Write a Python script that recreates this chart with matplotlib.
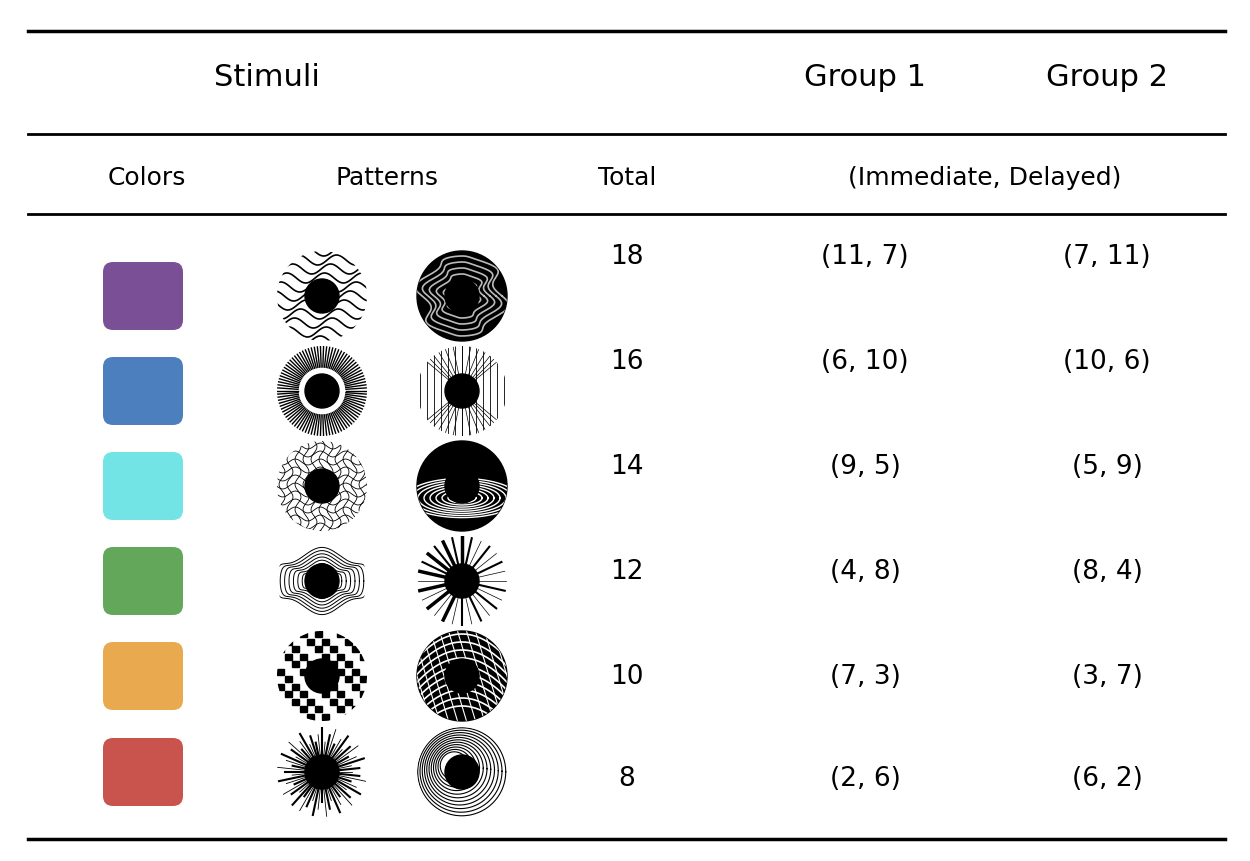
import numpy as np
import matplotlib
matplotlib.use("Agg")
import matplotlib.pyplot as plt
from matplotlib.patches import FancyBboxPatch, Circle

header1 = ["Stimuli", "Group 1", "Group 2"]
header2 = ["Colors", "Patterns", "Total", "(Immediate, Delayed)"]
colors = ["#7B4F96", "#4C7FBE", "#72E4E6", "#63A85A", "#E8A94F", "#C9544E"]
totals = [18, 16, 14, 12, 10, 8]
group1 = ["(11, 7)", "(6, 10)", "(9, 5)", "(4, 8)", "(7, 3)", "(2, 6)"]
group2 = ["(7, 11)", "(10, 6)", "(5, 9)", "(8, 4)", "(3, 7)", "(6, 2)"]

fig = plt.figure(figsize=(12.5, 8.62), dpi=100)
ax = fig.add_axes([0, 0, 1, 1])
ax.set_xlim(0, 1250); ax.set_ylim(862, 0); ax.axis("off")
FONT = "DejaVu Sans"

for y, lw in [(32, 2.5), (135, 2), (215, 2), (840, 2.5)]:
    ax.plot([28, 1225], [y, y], color="black", lw=lw)

ax.text(267, 77, header1[0], ha="center", va="center", fontsize=22, family=FONT)
ax.text(865, 77, header1[1], ha="center", va="center", fontsize=22, family=FONT)
ax.text(1107, 77, header1[2], ha="center", va="center", fontsize=22, family=FONT)
for x, t in zip([147, 387, 627, 985], header2):
    ax.text(x, 178, t, ha="center", va="center", fontsize=18, family=FONT)

row_y = [297, 392, 487, 582, 677, 773]
text_y = [257, 362, 467, 572, 677, 779]

def pattern(cx, cy, kind, r=45):
    clip = Circle((cx, cy), r, transform=ax.transData)
    dark = kind in (6, 8, 10)
    bg = Circle((cx, cy), r, color="black" if dark else "white", zorder=2)
    ax.add_patch(bg)
    arts = []
    t = np.linspace(0, 2*np.pi, 200)
    if kind == 0:
        for k in range(-5, 6):
            xs = np.linspace(cx-r, cx+r, 100)
            arts += ax.plot(xs, cy + k*9 + 5*np.sin((xs-cx)/6 + k), color="k", lw=1.2)
    elif kind == 1:
        for a in np.linspace(0, 2*np.pi, 90, endpoint=False):
            arts += ax.plot([cx + 24*np.cos(a), cx + r*np.cos(a)], [cy + 24*np.sin(a), cy + r*np.sin(a)], color="k", lw=1.0)
    elif kind == 2:
        for k in range(-6, 7):
            xs = np.linspace(cx-r, cx+r, 50)
            arts += ax.plot(xs, cy + k*8 + 3*np.sin(xs/4), color="k", lw=0.6)
            arts += ax.plot(cx + k*8 + 3*np.sin(xs/4), xs - cx + cy, color="k", lw=0.6)
    elif kind == 3:
        for rr in range(18, 46, 4):
            arts += ax.plot(cx + rr*np.cos(t)*1.1, cy + rr*np.sin(t)*0.7 + 0.1*rr*np.sin(5*t), color="k", lw=0.7)
    elif kind == 4:
        for i in range(12):
            for j in range(12):
                if (i*7 + j*3) % 5 < 2:
                    x0 = cx - r + i*7.5; y0 = cy - r + j*7.5
                    arts.append(ax.add_patch(plt.Rectangle((x0, y0), 7, 6, color="k")))
    elif kind == 5:
        for a in np.linspace(0, 2*np.pi, 60, endpoint=False):
            l = 30 + 15*((int(a*10)) % 3)/2
            arts += ax.plot([cx, cx + l*np.cos(a)], [cy, cy + l*np.sin(a)], color="k", lw=1.5 if int(a*10) % 2 else 0.6)
    elif kind == 6:
        for rr in range(10, 46, 6):
            arts += ax.plot(cx + rr*np.cos(t)*(1 + 0.2*np.sin(6*t)), cy + rr*np.sin(t), color="#bbbbbb", lw=1.2)
    elif kind == 7:
        for k in range(-6, 7):
            arts += ax.plot([cx + k*7, cx + k*7], [cy - r, cy + r], color="k", lw=0.6)
            arts += ax.plot([cx, cx + k*9], [cy, cy - r], color="k", lw=0.5)
            arts += ax.plot([cx, cx + k*9], [cy, cy + r], color="k", lw=0.5)
    elif kind == 8:
        for rr in range(8, 60, 6):
            arts += ax.plot(cx + rr*np.cos(t), cy + 12 + rr*0.35*np.sin(t), color="white", lw=1.0)
    elif kind == 9:
        for a in np.linspace(0, 2*np.pi, 28, endpoint=False):
            arts += ax.plot([cx, cx + 44*np.cos(a)], [cy, cy + 44*np.sin(a)], color="k", lw=0.5 + (int(a*7) % 3))
    elif kind == 10:
        for k in range(-5, 6):
            xs = np.linspace(cx-r, cx+r, 50)
            arts += ax.plot(xs, cy + k*8 + 0.012*(xs-cx)**2 - 10, color="white", lw=1.2)
            arts += ax.plot(cx + k*9 + 0.3*(xs-cx), xs - cx + cy, color="white", lw=0.8)
    elif kind == 11:
        for rr in range(14, 46, 3):
            arts += ax.plot(cx + rr*np.cos(t) - (45-rr)*0.25, cy + rr*np.sin(t) - (45-rr)*0.2, color="k", lw=0.8)
    for a in arts:
        a.set_clip_path(clip); a.set_zorder(3)
    ax.add_patch(Circle((cx, cy), 17, color="black", zorder=4))

for i, yy in enumerate(row_y):
    ax.add_patch(FancyBboxPatch((143-36, yy-30), 72, 60, boxstyle="round,pad=4,rounding_size=10",
                                facecolor=colors[i], edgecolor="none"))
    pattern(322, yy, i)
    pattern(462, yy, i + 6)
    ax.text(627, text_y[i], str(totals[i]), ha="center", va="center", fontsize=19, family=FONT)
    ax.text(865, text_y[i], group1[i], ha="center", va="center", fontsize=19, family=FONT)
    ax.text(1107, text_y[i], group2[i], ha="center", va="center", fontsize=19, family=FONT)

fig.savefig("out.png", dpi=100, facecolor="white")
